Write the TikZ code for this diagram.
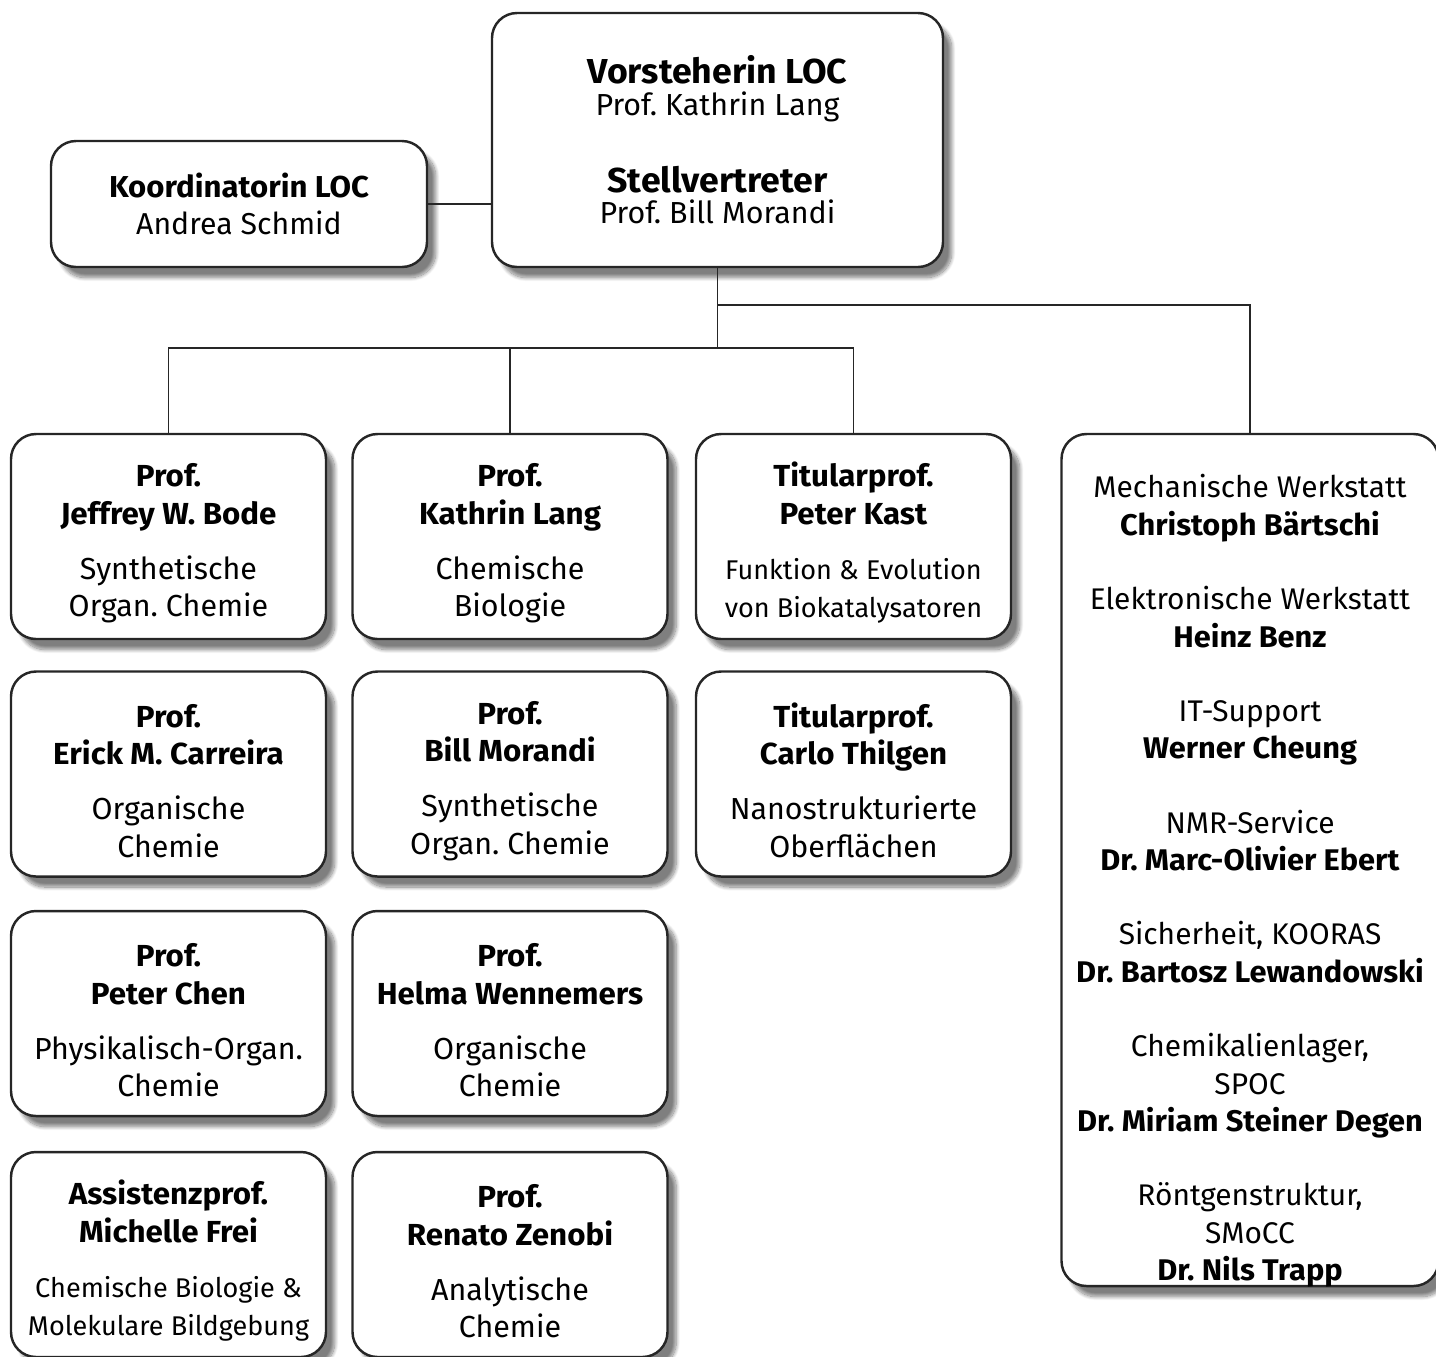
\documentclass[tikz,border=0pt]{standalone}
\usepackage{fontspec}
\setmainfont{Fira Sans}[BoldFeatures={FakeStretch=1.03}]
\frenchspacing
\usetikzlibrary{positioning,shadows.blur}
\tikzset{
  kasten/.style={draw=black!85,line width=1.4pt,rounded corners=0.5cm,fill=white,align=center,
    blur shadow={shadow xshift=5pt,shadow yshift=-6pt,shadow blur steps=12,shadow opacity=50},
    inner sep=0pt,font=\fontsize{17.3}{21.4}\selectfont},
  einheit/.style={kasten,minimum width=6.3cm,minimum height=4.1cm},
  linie/.style={line width=1.1pt,draw=black!85}
}
\newcommand{\kopf}[1]{\rule{0pt}{21pt}\textbf{#1}}
\begin{document}
\begin{tikzpicture}
\useasboundingbox (0,0) rectangle (28.72,-27.12);
\def\sp{\\[10pt]}
\def\klein{\fontsize{15.4}{21.4}\selectfont}
% Leitung
\node[kasten,minimum width=9.02cm,minimum height=5.08cm,font=\fontsize{17.3}{18}\selectfont] (vorst) at (14.35,-2.8)
  {{\fontsize{19.7}{22}\selectfont\textbf{Vorsteherin LOC}}\\Prof. Kathrin Lang\\[24pt]
   {\fontsize{19.7}{22}\selectfont\textbf{Stellvertreter}}\\Prof. Bill Morandi};
\node[kasten,minimum width=7.52cm,minimum height=2.52cm,font=\fontsize{17.2}{21.5}\selectfont] (koord) at (4.78,-4.08)
  {\textbf{Koordinatorin LOC}\\Andrea Schmid};
% Professuren
\node[einheit] (bode) at (3.37,-10.73) {\kopf{Prof.}\\\textbf{Jeffrey W. Bode}\sp Synthetische\\Organ. Chemie};
\node[einheit] (carreira) at (3.37,-15.48) {\kopf{Prof.}\\\textbf{Erick M. Carreira}\sp Organische\\Chemie};
\node[einheit] (chen) at (3.37,-20.27) {\kopf{Prof.}\\\textbf{Peter Chen}\sp Physikalisch-Organ.\\Chemie};
\node[einheit] (frei) at (3.37,-25.09) {\kopf{Assistenzprof.}\\\textbf{Michelle Frei}\sp
  {\klein Chemische Biologie \&}\\{\klein Molekulare Bildgebung}};
\node[einheit] (lang) at (10.2,-10.73) {\kopf{Prof.}\\\textbf{Kathrin Lang}\sp Chemische\\Biologie};
\node[einheit] (morandi) at (10.2,-15.48) {\kopf{Prof.}\\\textbf{Bill Morandi}\sp Synthetische\\Organ. Chemie};
\node[einheit] (wennemers) at (10.2,-20.27) {\kopf{Prof.}\\\textbf{Helma Wennemers}\sp Organische\\Chemie};
\node[einheit] (zenobi) at (10.2,-25.09) {\kopf{Prof.}\\\textbf{Renato Zenobi}\sp Analytische\\Chemie};
\node[einheit] (kast) at (17.07,-10.73) {\kopf{Titularprof.}\\\textbf{Peter Kast}\sp
  {\klein Funktion \& Evolution}\\{\klein von Biokatalysatoren}};
\node[einheit] (thilgen) at (17.07,-15.48) {\kopf{Titularprof.}\\\textbf{Carlo Thilgen}\sp Nanostrukturierte\\Oberflächen};
% Dienste
\node[kasten,minimum width=7.54cm,minimum height=17.04cm] (dienste) at (25.0,-17.2) {};
\node[align=center,inner sep=0pt,font=\fontsize{17}{21.3}\selectfont] (liste) at ([yshift=-0.42cm]dienste.center)
  {Mechanische Werkstatt\\\textbf{Christoph Bärtschi}\\[21pt]
   Elektronische Werkstatt\\\textbf{Heinz Benz}\\[21pt]
   IT-Support\\\textbf{Werner Cheung}\\[21pt]
   NMR-Service\\\textbf{Dr. Marc-Olivier Ebert}\\[21pt]
   Sicherheit, KOORAS\\\textbf{Dr. Bartosz Lewandowski}\\[21pt]
   Chemikalienlager,\\SPOC\\\textbf{Dr. Miriam Steiner Degen}\\[21pt]
   Röntgenstruktur,\\SMoCC\\\textbf{Dr. Nils Trapp}};
% Linien
\draw[linie] (koord.east) -- (koord.east -| vorst.west);
\draw[linie] (vorst.south) -- ++(0,-1.6) coordinate (bus);
\path (vorst.south) ++(0,-0.74) coordinate (abzw);
\draw[linie] (bode.north) |- (bus) -| (kast.north);
\draw[linie] (lang.north) -- (lang.north |- bus);
\draw[linie] (abzw) -| (dienste.north);
\end{tikzpicture}
\end{document}
